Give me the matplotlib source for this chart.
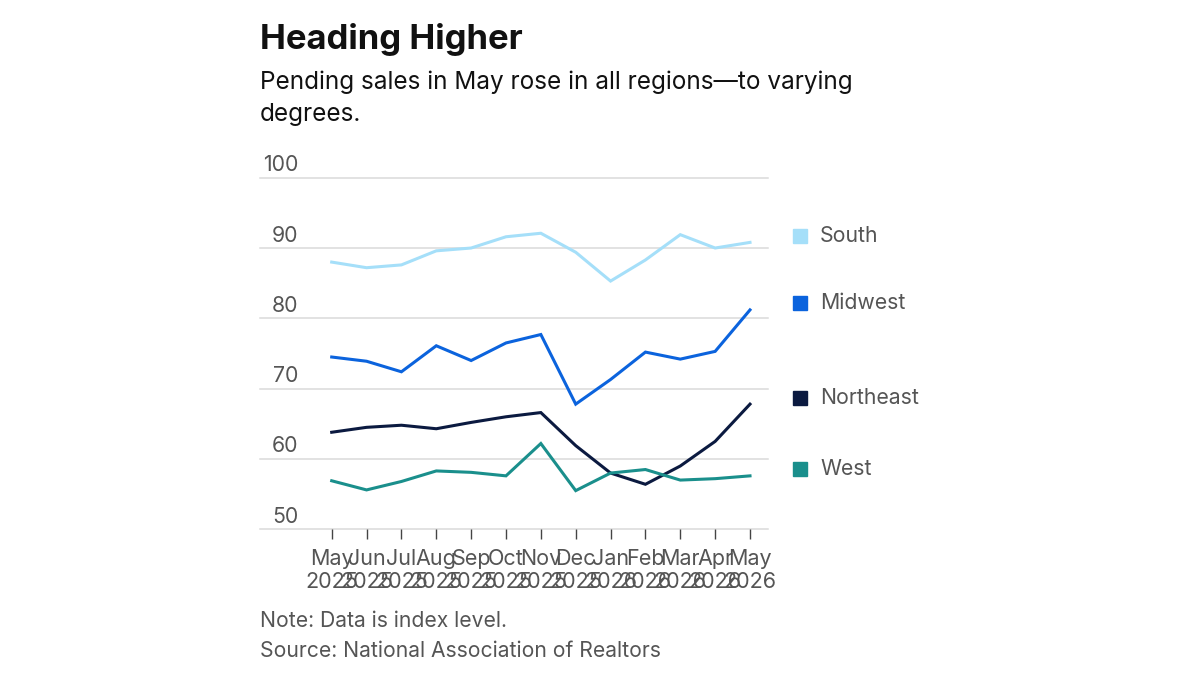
import matplotlib
matplotlib.use("Agg")
import matplotlib.pyplot as plt
import matplotlib.transforms as mtransforms

plt.rcParams['font.family'] = ['Inter', 'DejaVu Sans']

months = ["May\n2025", "Jun\n2025", "Jul\n2025", "Aug\n2025", "Sep\n2025", "Oct\n2025",
          "Nov\n2025", "Dec\n2025", "Jan\n2026", "Feb\n2026", "Mar\n2026", "Apr\n2026", "May\n2026"]
south = [88.0, 87.2, 87.6, 89.6, 90.0, 91.6, 92.1, 89.4, 85.3, 88.3, 91.9, 90.0, 90.8]
midwest = [74.5, 73.9, 72.4, 76.1, 74.0, 76.5, 77.7, 67.8, 71.3, 75.2, 74.2, 75.3, 81.2]
northeast = [63.8, 64.5, 64.8, 64.3, 65.2, 66.0, 66.6, 61.9, 58.0, 56.4, 59.0, 62.5, 67.8]
west = [56.9, 55.6, 56.8, 58.3, 58.1, 57.6, 62.2, 55.5, 58.0, 58.5, 57.0, 57.2, 57.6]
series_names = ["South", "Midwest", "Northeast", "West"]
series_values = [south, midwest, northeast, west]
colors = ["#a5dff9", "#0b63dd", "#0b1a40", "#1a8f8c"]
y_ticks = [50, 60, 70, 80, 90, 100]

W, H = 1200, 675
fig = plt.figure(figsize=(12, 6.75), dpi=100)
fig.patch.set_facecolor("white")

left_px, right_px, top_px, bot_px = 260, 768, 177.7, 529.3
ax = fig.add_axes([left_px / W, 1 - bot_px / H, (right_px - left_px) / W, (bot_px - top_px) / H])

x = list(range(len(months)))
step = (750 - 331.7) / 12
ax.set_xlim(-(331.7 - left_px) / step, 12 + (right_px - 750) / step)
ax.set_ylim(50, 100)

for v in y_ticks:
    ax.axhline(v, color="#dadada", lw=1.1, zorder=1, clip_on=False)

for vals, c in zip(series_values, colors):
    ax.plot(x, vals, color=c, lw=2.2, zorder=3, solid_joinstyle="miter", clip_on=False)

for s in ax.spines.values():
    s.set_visible(False)

ax.set_yticks([])
ax.set_xticks(x)
ax.set_xticklabels(months, fontsize=15.5, color="#555555", linespacing=1.2)
ax.tick_params(axis="x", length=7, width=1, color="#444444", pad=7)

# y tick labels above gridlines, right-aligned
lbl_trans = mtransforms.blended_transform_factory(fig.transFigure, ax.transData) + \
    mtransforms.ScaledTranslation(0, 6.5 / 100, fig.dpi_scale_trans)
for v in y_ticks:
    ax.text(298 / W, v, str(v), transform=lbl_trans, ha="right", va="baseline",
            fontsize=15.3, color="#555555")

# legend labels at end of series
leg_trans = mtransforms.blended_transform_factory(fig.transFigure, ax.transData) + \
    mtransforms.ScaledTranslation(0, 6.5 / 100, fig.dpi_scale_trans)
for name, vals, c in zip(series_names, series_values, colors):
    ax.plot([800 / W], [vals[-1]], marker="s", markersize=10.5, color=c,
            transform=leg_trans, clip_on=False, linestyle="none")
    ax.text(820 / W, vals[-1], name, transform=leg_trans, ha="left", va="center",
            fontsize=15.3, color="#555555")

fig.text(260 / W, 1 - 49 / H, "Heading Higher", fontsize=25, fontweight="bold",
         color="#111111", ha="left", va="baseline")
fig.text(260 / W, 1 - 89 / H, "Pending sales in May rose in all regions\u2014to varying",
         fontsize=17.5, color="#111111", ha="left", va="baseline")
fig.text(260 / W, 1 - 121 / H, "degrees.", fontsize=17.5, color="#111111", ha="left", va="baseline")
fig.text(260 / W, 1 - 627 / H, "Note: Data is index level.", fontsize=15.2, color="#555555",
         ha="left", va="baseline")
fig.text(260 / W, 1 - 657 / H, "Source: National Association of Realtors", fontsize=15.2,
         color="#555555", ha="left", va="baseline")

fig.savefig("out.png", dpi=100, facecolor="white")
